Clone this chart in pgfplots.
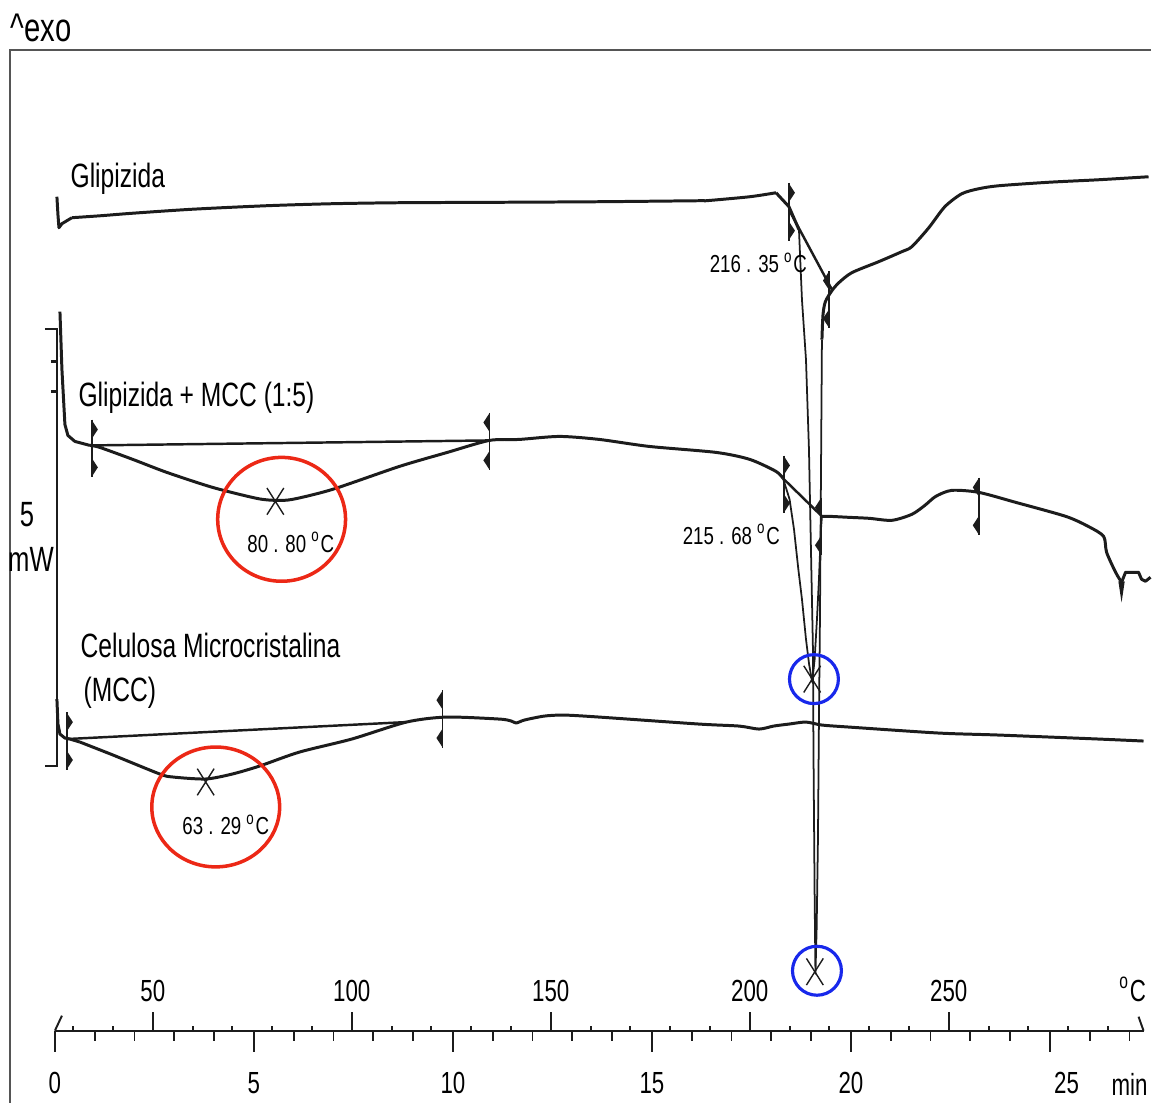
\documentclass[border=0pt]{standalone}
\usepackage{pgfplots}
\pgfplotsset{compat=1.18}
\usepackage{fontspec}
\setmainfont{Liberation Sans}[FakeStretch=0.73]
\newfontfamily\annfont{Liberation Sans}[FakeStretch=0.76]
\definecolor{curve}{HTML}{1C1C1C}
\definecolor{ringred}{RGB}{236,40,22}
\definecolor{ringblue}{RGB}{24,40,235}
\definecolor{framegray}{HTML}{555555}

\pgfdeclareplotmark{flagR}{%
  \pgfpathmoveto{\pgfqpoint{0pt}{8.2pt}}\pgfpathlineto{\pgfqpoint{0pt}{-8.2pt}}\pgfusepathqstroke
  \pgfpathmoveto{\pgfqpoint{0pt}{8pt}}\pgfpathlineto{\pgfqpoint{1.7pt}{5.4pt}}\pgfpathlineto{\pgfqpoint{0pt}{2.8pt}}\pgfpathclose\pgfusepathqfill
  \pgfpathmoveto{\pgfqpoint{0pt}{-2.8pt}}\pgfpathlineto{\pgfqpoint{1.7pt}{-5.4pt}}\pgfpathlineto{\pgfqpoint{0pt}{-8pt}}\pgfpathclose\pgfusepathqfill}
\pgfdeclareplotmark{flagL}{%
  \pgfpathmoveto{\pgfqpoint{0pt}{8.2pt}}\pgfpathlineto{\pgfqpoint{0pt}{-8.2pt}}\pgfusepathqstroke
  \pgfpathmoveto{\pgfqpoint{0pt}{8pt}}\pgfpathlineto{\pgfqpoint{-1.7pt}{5.4pt}}\pgfpathlineto{\pgfqpoint{0pt}{2.8pt}}\pgfpathclose\pgfusepathqfill
  \pgfpathmoveto{\pgfqpoint{0pt}{-2.8pt}}\pgfpathlineto{\pgfqpoint{-1.7pt}{-5.4pt}}\pgfpathlineto{\pgfqpoint{0pt}{-8pt}}\pgfpathclose\pgfusepathqfill}
\pgfdeclareplotmark{flagD}{%
  \pgfpathmoveto{\pgfqpoint{-0.9pt}{2.8pt}}\pgfpathlineto{\pgfqpoint{0.9pt}{2.8pt}}\pgfpathlineto{\pgfqpoint{0pt}{-3.2pt}}\pgfpathclose\pgfusepathqfill}
\pgfdeclareplotmark{bigx}{%
  \pgfpathmoveto{\pgfqpoint{-2.4pt}{3.8pt}}\pgfpathlineto{\pgfqpoint{2.4pt}{-3.8pt}}
  \pgfpathmoveto{\pgfqpoint{2.4pt}{3.8pt}}\pgfpathlineto{\pgfqpoint{-2.4pt}{-3.8pt}}\pgfusepathqstroke}

\newcommand\lbl{\fontsize{9.6}{11}\selectfont}
\newcommand\tck{\fontsize{8.7}{10}\selectfont}
\newcommand\ann{\annfont\fontsize{7}{8}\selectfont}
\newcommand\dg{\textsuperscript{o}}

\begin{document}
\begin{tikzpicture}
\begin{axis}[width=11.52cm,height=11.04cm,scale only axis,hide axis,clip=false,
  xmin=11.61,xmax=300.69,ymin=0,ymax=1104,y dir=reverse]
\path (rel axis cs:0,0) rectangle (rel axis cs:1,1);

% frame
\draw[framegray,line width=0.6pt] (axis cs:14.12,1104) -- (axis cs:14.12,50) -- (axis cs:300.69,50);

% ---------- Glipizida ----------
\addplot[curve,line width=0.85pt,line join=round] coordinates {
(25.91,197)(26.17,215)(26.42,228)(27.17,224)(29.68,218)};
\addplot[curve,line width=0.85pt,line join=round,smooth,tension=0.45] coordinates {
(29.68,218)(37,216)(44.98,213.5)(60,209.5)(78.61,206)(95,204)(111.99,203)
(140,202.5)(162.17,202)(187.27,201)(189.03,201)(200,197)(206.59,193)};
\addplot[curve,line width=0.85pt,line join=round] coordinates {
(206.59,193)(209.85,207)(212.36,230)};
\addplot[curve,line width=0.5pt,line join=round] coordinates {
(212.36,230)(213.11,300)(214.12,360)(214.87,450)(215.37,550)(215.87,650)(216.0,750)(216.3,900)
(216.5,975)(216.8,930)(217.13,840)(217.38,720)(217.63,620)(217.88,480)(218.13,340)};
\addplot[curve,line width=0.85pt,line join=round,smooth,tension=0.45] coordinates {
(218.13,340)(218.4,315)(219.0,302)(220.64,291)(222.4,283)(225.66,273)(232.4,262)(238.21,252)
(240.72,247)(244.99,228)(249,207)(253.27,194)(257.53,189)(262.55,186)(275.1,182.5)(287.64,180)(300.19,177)};
\addplot[curve,line width=0.7pt] coordinates {(209.85,210)(220.64,290)};

% ---------- Glipizida + MCC ----------
\addplot[curve,line width=0.85pt,line join=round] coordinates {
(26.67,312)(27.17,370)(27.92,425)(28.67,436)(30.43,442)(34.19,446)};
\addplot[curve,line width=0.85pt,line join=round,smooth,tension=0.45] coordinates {
(34.19,446)(36.70,448)(44.98,460)
(53.52,473)(65,488)(76.10,499)(80.80,501)(85.13,500)(95.17,490)(111.99,467)(124,453)(134.57,441)
(142.1,440)(152.14,437)(162.17,440)(174.72,447)(191.54,453)(200,460)(206.59,472)(208.35,479)};
\addplot[curve,line width=0.5pt,line join=round] coordinates {
(208.35,479)(210.0,500)(211.11,530)(212.2,570)(213.11,600)(214.12,640)(214.9,665)(215.68,683)
(216.3,660)(216.88,620)(217.38,580)(217.88,530)(218.13,517)};
\addplot[curve,line width=0.85pt,line join=round,smooth,tension=0.45] coordinates {
(218.13,517)(219.89,517)(224.91,518)(230,519)(235.70,521)(240.72,515)(244,506)(246.74,497)
(250.75,491)(257.53,493)(266.81,503)(279.36,517)(285,527)(288.90,537)(289.65,553)(291.91,573)(293.41,583)};
\addplot[curve,line width=0.85pt,line join=round] coordinates {
(293.41,583)(294.42,573)(297.68,573)(298.43,580)(299.43,582)(300.69,578)};
\addplot[curve,line width=0.7pt] coordinates {(34.70,446)(134.57,441)};
\addplot[curve,line width=0.7pt] coordinates {(208.35,479)(218.13,517)};

% ---------- MCC ----------
\addplot[curve,line width=0.85pt,line join=round] coordinates {
(25.91,700)(26.17,725)(26.67,735)(27.92,739)(29.18,740)(31.69,743)};
\addplot[curve,line width=0.85pt,line join=round,smooth,tension=0.45] coordinates {
(31.69,743)(40,756)(51.76,775)(55.02,778)
(63.29,780)(70,775)(76.85,767)(86.89,753)(100,740)(113.74,723)(123.78,718)(137.08,720)(140.1,722)
(141.35,724)(143.35,721)(148.37,717)(153.39,716)(162.17,718)(187.27,725)(197.3,727)(202.32,730)
(206,727)(209.85,725)(214.12,723)(218.13,726)(224.91,728)(247.49,734)(262.55,736)(287.64,740)(298.93,742)};
\addplot[curve,line width=0.7pt] coordinates {(28.42,740)(113.74,723)};

% ---------- integration limit flags ----------
\addplot[only marks,mark=flagR,curve,line width=0.5pt,mark options={fill=curve}] coordinates {
(209.85,212)(34.70,449)(208.60,485)(28.42,742)};
\addplot[only marks,mark=flagL,curve,line width=0.5pt,mark options={fill=curve}] coordinates {
(219.89,300)(134.57,442)(217.88,527)(257.53,507)(122.77,720)};
\addplot[only marks,mark=flagD,curve,mark options={fill=curve}] coordinates {(293.41,592)};

% ---------- peak markers ----------
\addplot[only marks,mark=bigx,curve,line width=0.4pt] coordinates {
(80.80,502)(63.29,783)(215.68,680)(216.35,973)};

% ---------- rings ----------
\draw[ringred,line width=1pt] (axis cs:82.37,520) ellipse [x radius=0.64cm,y radius=0.62cm];
\draw[ringred,line width=1pt] (axis cs:65.81,808) ellipse [x radius=0.64cm,y radius=0.60cm];
\draw[ringblue,line width=0.9pt] (axis cs:216.12,680) circle [radius=0.245cm];
\draw[ringblue,line width=0.9pt] (axis cs:216.88,972) circle [radius=0.245cm];

% ---------- scale bar ----------
\draw[curve,line width=0.6pt] (axis cs:22.90,329) -- (axis cs:25.91,329) -- (axis cs:25.91,767) -- (axis cs:22.90,767);
\draw[curve,line width=0.6pt] (axis cs:24.40,362) -- (axis cs:25.91,362);
\draw[curve,line width=0.6pt] (axis cs:24.40,392) -- (axis cs:25.91,392);
\node[anchor=base,inner sep=0pt] at (axis cs:18.39,527) {\fontsize{10}{12}\selectfont 5};
\node[anchor=base,inner sep=0pt] at (axis cs:19.39,572) {\fontsize{10}{12}\selectfont mW};

% ---------- labels ----------
\node[anchor=base west,inner sep=0pt] at (axis cs:14.12,42) {\fontsize{11.4}{13}\selectfont\textasciicircum exo};
\node[anchor=base west,inner sep=0pt] at (axis cs:29.18,188) {\lbl Glipizida};
\node[anchor=base west,inner sep=0pt] at (axis cs:31.18,407) {\lbl Glipizida + MCC (1:5)};
\node[anchor=base west,inner sep=0pt] at (axis cs:31.69,658) {\lbl Celulosa Microcristalina};
\node[anchor=base west,inner sep=0pt] at (axis cs:32.44,702) {\lbl (MCC)};

\node[anchor=base west,inner sep=0pt] at (axis cs:189.78,273) {\ann 216 . 35 \dg C};
\node[anchor=base west,inner sep=0pt] at (axis cs:183.00,545) {\ann 215 . 68 \dg C};
\node[anchor=base west,inner sep=0pt] at (axis cs:73.59,553) {\ann 80 . 80 \dg C};
\node[anchor=base west,inner sep=0pt] at (axis cs:57.28,836) {\ann 63 . 29 \dg C};

% ---------- temperature / time scale ----------
\draw[curve,line width=0.55pt] (axis cs:25.41,1032) -- (axis cs:298.93,1032);
\draw[curve,line width=0.55pt] (axis cs:25.41,1032) -- (axis cs:27.17,1017);
\draw[curve,line width=0.55pt] (axis cs:297.68,1018) -- (axis cs:298.93,1032);
\pgfplotsinvokeforeach{30,40,...,290}{\draw[curve,line width=0.55pt] (axis cs:#1,1032) -- (axis cs:#1,1027);}
\pgfplotsinvokeforeach{50,100,150,200,250}{\draw[curve,line width=0.55pt] (axis cs:#1,1032) -- (axis cs:#1,1013);
  \node[anchor=base,inner sep=0pt] at (axis cs:#1,1003) {\tck #1};}
\pgfplotsinvokeforeach{1,...,27}{\draw[curve,line width=0.55pt] (axis cs:{25.41+10*#1},1032) -- (axis cs:{25.41+10*#1},1042);}
\pgfplotsinvokeforeach{0,5,10,15,20}{\draw[curve,line width=0.55pt] (axis cs:{25.41+10*#1},1032) -- (axis cs:{25.41+10*#1},1053);
  \node[anchor=base,inner sep=0pt] at (axis cs:{25.41+10*#1},1095) {\tck #1};}
\draw[curve,line width=0.55pt] (axis cs:275.41,1032) -- (axis cs:275.41,1053);
\node[anchor=base,inner sep=0pt] at (axis cs:279.6,1095) {\tck 25};
\node[anchor=base,inner sep=0pt] at (axis cs:296.2,1003) {\tck \dg C};
\node[anchor=base,inner sep=0pt] at (axis cs:295.42,1097) {\tck min};
\end{axis}
\end{tikzpicture}
\end{document}
